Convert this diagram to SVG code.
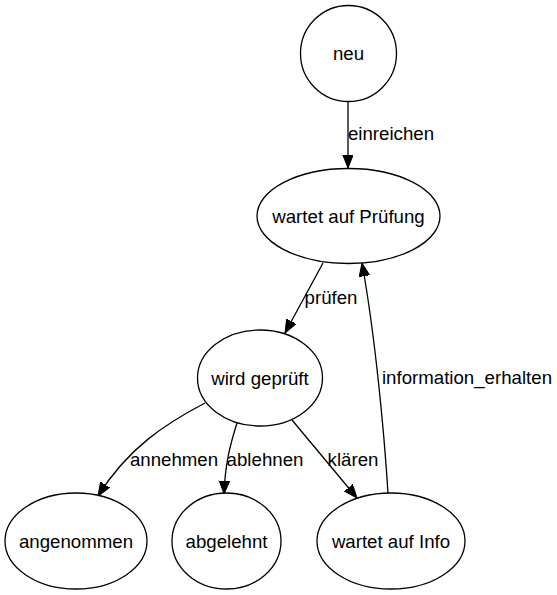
<svg xmlns="http://www.w3.org/2000/svg" width="557" height="595" viewBox="0 0 557 595">
<style>
.n{fill:#fff;stroke:#000;stroke-width:1.3}
.t{font-family:"Liberation Sans",Arial,sans-serif;font-size:18.67px;fill:#000;text-anchor:middle}
.e{fill:none;stroke:#000;stroke-width:1.3}
</style>
<defs>
<marker id="a" markerUnits="userSpaceOnUse" markerWidth="15" markerHeight="12" refX="13.3" refY="5.3" orient="auto">
<path d="M0,0 L13.3,5.3 L0,10.6 Z" fill="#000" stroke="#000" stroke-width="1"/>
</marker>
</defs>
<rect width="557" height="595" fill="#fff"/>
<g id="edges">
<path class="e" d="M348,101 L348,168" marker-end="url(#a)"/>
<text class="t" x="391" y="140">einreichen</text>
<path class="e" d="M323,263 L285,333" marker-end="url(#a)"/>
<text class="t" x="331" y="304">prüfen</text>
<path class="e" d="M205,403 C165,424 128,448 98,496" marker-end="url(#a)"/>
<text class="t" x="174" y="466">annehmen</text>
<path class="e" d="M237,423 C230,445 225,465 224,494" marker-end="url(#a)"/>
<text class="t" x="265" y="466">ablehnen</text>
<path class="e" d="M292,420 L357,498" marker-end="url(#a)"/>
<text class="t" x="353" y="466">klären</text>
<path class="e" d="M388,493 C384,430 375,335 362,263" marker-end="url(#a)"/>
<text class="t" x="467" y="384">information_erhalten</text>
</g>
<g id="neu"><circle class="n" cx="348.5" cy="53.5" r="48"/><text class="t" x="348.5" y="60">neu</text></g>
<g id="wartet_pruefung"><ellipse class="n" cx="348.5" cy="216" rx="91.5" ry="47.5"/><text class="t" x="348.5" y="223">wartet auf Prüfung</text></g>
<g id="wird_geprueft"><ellipse class="n" cx="260" cy="378" rx="62.5" ry="48"/><text class="t" x="260" y="385">wird geprüft</text></g>
<g id="angenommen"><ellipse class="n" cx="76" cy="541" rx="71" ry="48"/><text class="t" x="76" y="548">angenommen</text></g>
<g id="abgelehnt"><ellipse class="n" cx="226.5" cy="541" rx="54.5" ry="48"/><text class="t" x="226.5" y="548">abgelehnt</text></g>
<g id="wartet_info"><ellipse class="n" cx="391" cy="541" rx="74" ry="48"/><text class="t" x="391" y="548">wartet auf Info</text></g>
</svg>
